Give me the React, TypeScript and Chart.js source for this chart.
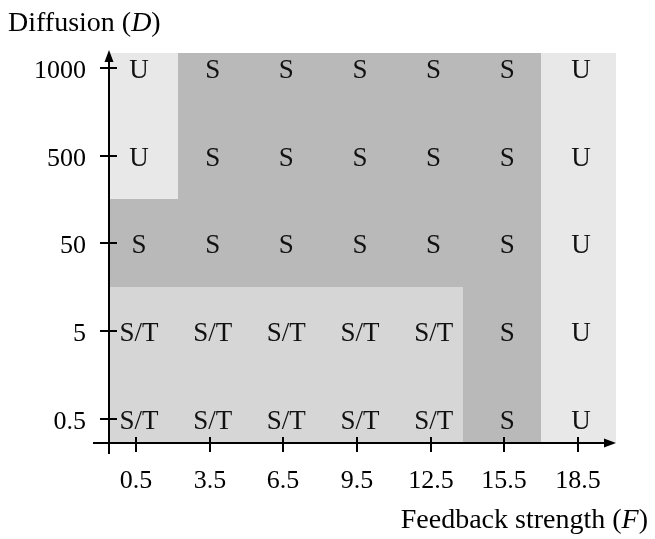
import React, { useEffect, useRef } from 'react';
import { Chart, registerables } from 'chart.js';
Chart.register(...registerables);

// Feedback strength (F) — x categories
const feedbackValues = [0.5, 3.5, 6.5, 9.5, 12.5, 15.5, 18.5];
const feedbackLabels = ['0.5', '3.5', '6.5', '9.5', '12.5', '15.5', '18.5'];
// Cell boundaries between neighbouring F columns
const feedbackEdges = [2.2, 5, 8, 11, 13.8, 17];
// Diffusion (D) — y categories, bottom to top
const diffusionLabels = ['0.5', '5', '50', '500', '1000'];

// Stability state per cell, one list per diffusion value
const statesD0_5 = ['S/T', 'S/T', 'S/T', 'S/T', 'S/T', 'S', 'U'];
const statesD5 = ['S/T', 'S/T', 'S/T', 'S/T', 'S/T', 'S', 'U'];
const statesD50 = ['S', 'S', 'S', 'S', 'S', 'S', 'U'];
const statesD500 = ['U', 'S', 'S', 'S', 'S', 'S', 'U'];
const statesD1000 = ['U', 'S', 'S', 'S', 'S', 'S', 'U'];
const stateRows = [statesD0_5, statesD5, statesD50, statesD500, statesD1000];

const stateColors: Record<string, string> = {
  U: '#e8e8e8',
  S: '#b9b9b9',
  'S/T': '#d6d6d6',
};

const FONT = '"Liberation Serif", "Times New Roman", serif';
const FS_CELL = 27;
const FS_TICK = 26;
const FS_TITLE = 28;
const X_MIN = -0.6;
const X_MAX = 20.05;
const Y_MIN = -0.27;
const Y_MAX = 4.2;
const REGION_TOP = 4.17;

const mapPlugin = {
  id: 'phaseMap',
  beforeDatasetsDraw(chart: any) {
    const { ctx } = chart;
    const xs = chart.scales.x;
    const ys = chart.scales.y;
    const nC = feedbackValues.length;
    const nR = stateRows.length;
    ctx.save();
    for (let r = 0; r < nR; r++) {
      for (let c = 0; c < nC; c++) {
        const x0v = c === 0 ? X_MIN : feedbackEdges[c - 1];
        const x1v = c === nC - 1 ? X_MAX : feedbackEdges[c];
        const y0v = r === 0 ? Y_MIN : r - 0.5;
        const y1v = r === nR - 1 ? REGION_TOP : r + 0.5;
        const px0 = Math.round(xs.getPixelForValue(x0v));
        const px1 = Math.round(xs.getPixelForValue(x1v));
        const py0 = Math.round(ys.getPixelForValue(y0v));
        const py1 = Math.round(ys.getPixelForValue(y1v));
        ctx.fillStyle = stateColors[stateRows[r][c]];
        ctx.fillRect(px0, py1, px1 - px0, py0 - py1);
      }
    }
    ctx.restore();
  },
  afterDatasetsDraw(chart: any) {
    const { ctx } = chart;
    const meta = chart.getDatasetMeta(0);
    const data = chart.data.datasets[0].data;
    ctx.save();
    ctx.fillStyle = '#111';
    ctx.font = `${FS_CELL}px ${FONT}`;
    ctx.textAlign = 'center';
    ctx.textBaseline = 'alphabetic';
    meta.data.forEach((el: any, i: number) => {
      ctx.fillText(data[i].state, el.x + 3, el.y + 10);
    });
    ctx.restore();
  },
  afterDraw(chart: any) {
    const { ctx, chartArea } = chart;
    const xs = chart.scales.x;
    const ys = chart.scales.y;
    const L = chartArea.left;
    const B = chartArea.bottom;
    const R = chartArea.right;
    const T = chartArea.top;
    ctx.save();
    ctx.strokeStyle = '#000';
    ctx.fillStyle = '#000';
    ctx.lineWidth = 2;
    // x axis
    ctx.beginPath();
    ctx.moveTo(L - 16, B);
    ctx.lineTo(R - 8, B);
    ctx.stroke();
    ctx.beginPath();
    ctx.moveTo(R, B);
    ctx.lineTo(R - 12, B - 4.5);
    ctx.lineTo(R - 12, B + 4.5);
    ctx.closePath();
    ctx.fill();
    // y axis
    ctx.beginPath();
    ctx.moveTo(L, B + 11);
    ctx.lineTo(L, T + 8);
    ctx.stroke();
    ctx.beginPath();
    ctx.moveTo(L, T);
    ctx.lineTo(L - 4.5, T + 12);
    ctx.lineTo(L + 4.5, T + 12);
    ctx.closePath();
    ctx.fill();
    // ticks
    ctx.font = `${FS_TICK}px ${FONT}`;
    ctx.textBaseline = 'alphabetic';
    feedbackValues.forEach((v, i) => {
      const px = Math.round(xs.getPixelForValue(v));
      ctx.beginPath();
      ctx.moveTo(px, B - 6);
      ctx.lineTo(px, B + 9);
      ctx.stroke();
      ctx.textAlign = 'center';
      ctx.fillText(feedbackLabels[i], px, B + 45);
    });
    diffusionLabels.forEach((lab, i) => {
      const py = Math.round(ys.getPixelForValue(i));
      ctx.beginPath();
      ctx.moveTo(L - 9, py);
      ctx.lineTo(L + 8, py);
      ctx.stroke();
      ctx.textAlign = 'right';
      ctx.fillText(lab, L - 23, py + 10);
    });
    // axis titles with italic symbols
    const drawMixed = (parts: [string, boolean][], x: number, y: number, align: 'left' | 'right') => {
      let total = 0;
      parts.forEach(([t, it]) => {
        ctx.font = `${it ? 'italic ' : ''}${FS_TITLE}px ${FONT}`;
        total += ctx.measureText(t).width;
      });
      let cx = align === 'left' ? x : x - total;
      ctx.textAlign = 'left';
      parts.forEach(([t, it]) => {
        ctx.font = `${it ? 'italic ' : ''}${FS_TITLE}px ${FONT}`;
        ctx.fillText(t, cx, y);
        cx += ctx.measureText(t).width;
      });
    };
    drawMixed([['Diffusion (', false], ['D', true], [')', false]], 8, 31, 'left');
    drawMixed([['Feedback strength (', false], ['F', true], [')', false]], 648, 528, 'right');
    ctx.restore();
  },
};

export default function App() {
  const ref = useRef<HTMLCanvasElement | null>(null);
  useEffect(() => {
    if (!ref.current) return;
    const points: any[] = [];
    stateRows.forEach((row, r) => {
      row.forEach((state, c) => {
        points.push({ x: feedbackValues[c], y: r, state });
      });
    });
    const chart = new Chart(ref.current, {
      type: 'scatter',
      data: {
        datasets: [
          {
            label: 'states',
            data: points,
            pointRadius: 0,
            pointHoverRadius: 0,
          },
        ],
      },
      options: {
        animation: false,
        responsive: false,
        maintainAspectRatio: false,
        events: [],
        layout: { padding: { left: 109, top: 50, right: 39, bottom: 96 } },
        plugins: { legend: { display: false }, tooltip: { enabled: false } },
        scales: {
          x: { type: 'linear', min: X_MIN, max: X_MAX, display: false },
          y: { type: 'linear', min: Y_MIN, max: Y_MAX, display: false },
        },
      },
      plugins: [mapPlugin],
    });
    return () => chart.destroy();
  }, []);
  return (
    <div style={{ position: 'fixed', left: 0, top: 0, width: 655, height: 539, background: '#fff' }}>
      <canvas ref={ref} width={655} height={539} style={{ display: 'block', width: 655, height: 539 }} />
    </div>
  );
}
